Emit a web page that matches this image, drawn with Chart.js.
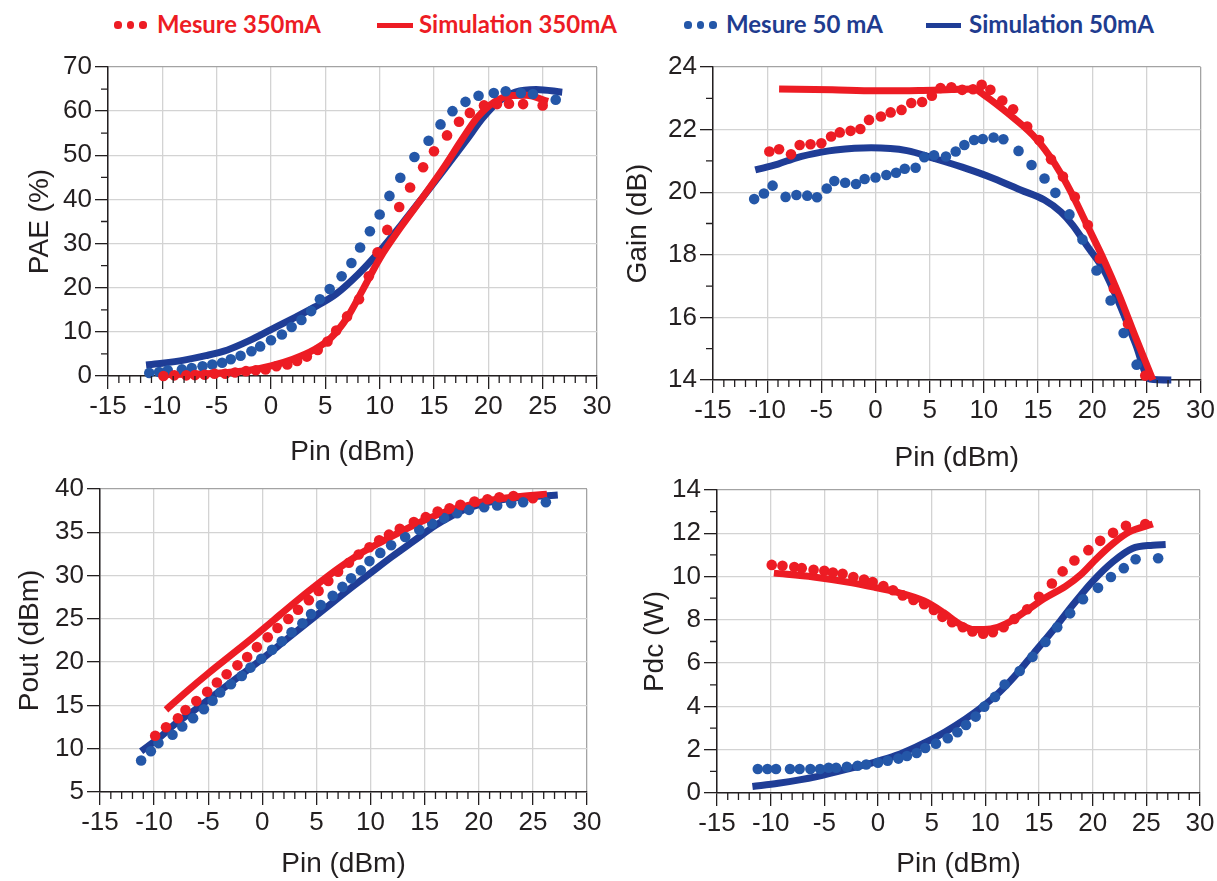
<!DOCTYPE html>
<html><head><meta charset="utf-8">
<script src="https://cdn.jsdelivr.net/npm/chart.js@4.4.1/dist/chart.umd.min.js"></script>
<style>
html,body{margin:0;padding:0;background:#fff}
body{width:1217px;height:881px;overflow:hidden;position:relative}
canvas{position:absolute}
.lgt{position:absolute;font-family:Lato,'Open Sans',sans-serif;font-weight:700;white-space:nowrap;line-height:1}
.lgd{position:absolute;border-radius:50%}
.lgl{position:absolute}
</style></head><body>
<div id="legend"></div>
<canvas id="c1" width="620" height="440"></canvas>
<canvas id="c2" width="607" height="440"></canvas>
<canvas id="c3" width="620" height="411"></canvas>
<canvas id="c4" width="607" height="411"></canvas>
<script>
// ---------- axis values ----------
const pinMin = -15, pinMax = 30, pinStep = 5;
const seriesLabels = ['Mesure 350mA', 'Simulation 350mA', 'Mesure 50 mA', 'Simulation 50mA'];

// ---------- PAE (%) ----------
const paeMesure350 = [[-9.9,0],[-8.9,0.15],[-7.8,0.15],[-7.0,0.2],[-6.1,0.3],[-5.2,0.5],[-4.2,0.5],[-3.3,0.8],[-2.3,1.1],[-1.4,1.3],[-0.5,1.5],[0.5,2.2],[1.5,2.6],[2.4,3.4],[3.3,4.4],[4.3,5.9],[5.2,7.8],[6.0,10.3],[7.0,13.5],[8.1,17.4],[9.0,22.6],[9.8,28.0],[10.7,33.1],[11.8,38.3],[12.8,42.7],[14.0,47.3],[15.0,50.9],[16.2,54.5],[17.3,57.6],[18.3,59.6],[19.6,61.3],[20.8,61.6],[21.9,61.7],[23.2,61.6],[25.0,61.3]];
const paeSimulation350 = [[-10,0.3],[-8,0.4],[-6,0.5],[-4,0.8],[-2,1.3],[0,2.3],[2,3.8],[4,6.0],[5.5,8.6],[7,13.2],[8.5,19.8],[10,26.6],[12,33.9],[14,40.6],[16,47.6],[17.5,53.3],[19,58.6],[20.5,62.0],[22,63.5],[23.5,63.6],[25.5,62.2]];
const paeMesure50 = [[-11.2,0.7],[-10.3,0.9],[-9.5,1.3],[-8.2,1.5],[-7.3,1.8],[-6.3,2.2],[-5.4,2.6],[-4.5,3.0],[-3.7,3.8],[-2.8,4.6],[-1.8,5.6],[-1.0,6.7],[0.0,8.1],[1.0,9.4],[1.9,11.1],[2.8,12.7],[3.7,14.7],[4.5,17.4],[5.4,19.7],[6.5,22.6],[7.4,25.6],[8.2,29.1],[9.1,32.8],[10.0,36.6],[10.9,40.8],[11.9,44.9],[13.2,49.6],[14.5,53.3],[15.6,57.0],[16.7,60.0],[17.9,62.1],[19.1,63.5],[20.5,64.1],[21.6,64.5],[23.0,64.1],[24.1,63.9],[26.2,62.6]];
const paeSimulation50 = [[-11.5,2.5],[-10,2.9],[-8,3.6],[-6,4.6],[-4,5.9],[-2,8.0],[0,10.5],[2,13.0],[4,15.6],[6,18.6],[8,23.0],[10,28.3],[12,34.3],[14,40.6],[16,47.0],[18,53.5],[19.5,58.5],[21,62.3],[22.5,64.3],[24.4,64.9],[26.8,64.3]];

// ---------- Gain (dB) ----------
const gainMesure350 = [[-9.8,21.30],[-8.9,21.37],[-7.8,21.21],[-7.0,21.51],[-6.0,21.53],[-5.0,21.56],[-4.1,21.78],[-3.3,21.91],[-2.3,21.96],[-1.4,22.02],[-0.6,22.31],[0.5,22.42],[1.4,22.55],[2.4,22.63],[3.3,22.85],[4.3,22.88],[5.2,23.08],[6.0,23.33],[7.0,23.35],[8.0,23.27],[9.0,23.29],[9.8,23.43],[10.6,23.27],[11.7,22.93],[12.7,22.65],[14.0,22.10],[15.1,21.67],[16.2,21.05],[17.3,20.50],[18.4,19.85],[19.6,18.95],[20.7,17.88],[22.0,16.92],[23.3,15.80],[24.9,14.14]];
const gainSimulation350 = [[-8.9,23.30],[-4,23.27],[0,23.24],[4,23.25],[7,23.28],[9.1,23.30],[10,23.11],[12.4,22.47],[14.5,21.83],[16,21.19],[17.1,20.6],[18.2,19.9],[19.6,18.9],[21.1,17.82],[22.5,16.70],[24,15.37],[25.6,14.0]];
const gainMesure50 = [[-11.2,19.78],[-10.3,19.96],[-9.5,20.21],[-8.3,19.85],[-7.3,19.91],[-6.3,19.89],[-5.4,19.84],[-4.5,20.12],[-3.8,20.36],[-2.8,20.30],[-1.8,20.26],[-1.0,20.42],[0.0,20.47],[1.0,20.55],[1.9,20.62],[2.7,20.75],[3.7,20.78],[4.5,21.12],[5.4,21.18],[6.5,21.14],[7.4,21.30],[8.2,21.51],[9.1,21.67],[9.9,21.70],[10.9,21.75],[11.8,21.69],[13.2,21.32],[14.4,20.87],[15.6,20.44],[16.6,19.98],[17.9,19.29],[19.1,18.49],[20.4,17.50],[21.7,16.54],[22.9,15.50],[24.1,14.49]];
const gainSimulation50 = [[-11.1,20.71],[-9,20.9],[-7.3,21.10],[-5,21.28],[-3.7,21.35],[-0.4,21.42],[2.9,21.33],[5.4,21.08],[8.0,20.80],[10.9,20.44],[13.4,20.07],[15.6,19.75],[17.1,19.37],[18.2,18.95],[19.6,18.25],[21.1,17.50],[22.5,16.44],[24.0,15.15],[25.3,14.03],[27.3,14.0]];

// ---------- Pout (dBm) ----------
const poutMesure350 = [[-9.9,11.49],[-8.9,12.48],[-7.8,13.52],[-7.1,14.47],[-6.1,15.50],[-5.1,16.58],[-4.2,17.65],[-3.3,18.60],[-2.3,19.63],[-1.4,20.59],[-0.5,21.74],[0.5,22.88],[1.4,23.95],[2.4,24.98],[3.3,26.05],[4.3,27.16],[5.2,28.23],[6.1,29.38],[7.0,30.45],[8.0,31.48],[8.9,32.43],[9.9,33.27],[10.8,34.08],[11.7,34.73],[12.7,35.41],[14.0,36.18],[15.1,36.75],[16.2,37.40],[17.3,37.78],[18.3,38.17],[19.6,38.55],[20.8,38.82],[21.9,39.04],[23.2,39.20],[25.0,38.93]];
const poutSimulation350 = [[-8.9,14.5],[-7,16.6],[-5,18.7],[-3,20.7],[-1,22.7],[1,24.8],[3,26.9],[5,28.9],[7,30.8],[9,32.5],[11,33.9],[13,35.2],[15,36.4],[17,37.4],[19,38.1],[21,38.7],[23.5,39.1],[26.3,39.4]];
const poutMesure50 = [[-11.2,8.63],[-10.3,9.70],[-9.6,10.65],[-8.3,11.61],[-7.4,12.56],[-6.4,13.52],[-5.4,14.55],[-4.6,15.54],[-3.9,16.50],[-2.9,17.45],[-1.9,18.41],[-1.1,19.37],[-0.1,20.40],[0.9,21.43],[1.8,22.42],[2.7,23.45],[3.7,24.49],[4.5,25.56],[5.4,26.59],[6.5,27.66],[7.4,28.69],[8.2,29.68],[9.1,30.60],[9.9,31.67],[10.9,32.62],[11.9,33.50],[13.2,34.46],[14.5,35.30],[15.7,35.99],[16.8,36.64],[18.0,37.21],[19.1,37.59],[20.5,37.90],[21.7,38.09],[23.0,38.36],[24.1,38.47],[26.2,38.47]];
const poutSimulation50 = [[-11.2,9.7],[-9.5,11.3],[-8.0,12.9],[-6,14.7],[-4,16.6],[-2,18.5],[0,20.4],[2,22.4],[4,24.4],[6,26.4],[8,28.4],[10,30.3],[12,32.2],[14,34.0],[16,35.8],[17.5,36.9],[19,37.8],[21,38.5],[23.0,38.9],[27.3,39.3]];

// ---------- Pdc (W) ----------
const pdcMesure350 = [[-9.9,10.54],[-8.9,10.50],[-7.8,10.44],[-7.1,10.39],[-6.0,10.31],[-5.0,10.27],[-4.2,10.19],[-3.3,10.13],[-2.3,9.98],[-1.3,9.86],[-0.5,9.75],[0.5,9.56],[1.4,9.37],[2.3,9.13],[3.3,8.92],[4.3,8.72],[5.2,8.46],[6.0,8.14],[6.9,7.89],[7.9,7.66],[8.8,7.46],[9.8,7.36],[10.7,7.43],[11.7,7.66],[12.7,8.04],[13.9,8.49],[15.0,9.07],[16.2,9.68],[17.2,10.24],[18.3,10.74],[19.6,11.22],[20.7,11.65],[21.9,12.02],[23.1,12.35],[24.9,12.43]];
const pdcSimulation350 = [[-9.7,10.16],[-6,9.98],[-2.4,9.71],[-0.1,9.48],[2.0,9.25],[4.3,8.87],[6.1,8.34],[7.6,7.81],[9.0,7.55],[10.5,7.58],[11.9,7.81],[13.8,8.42],[15.6,9.02],[17.5,9.56],[18.9,10.09],[20.4,10.85],[21.9,11.53],[23.4,12.06],[25.6,12.43]];
const pdcMesure50 = [[-11.2,1.11],[-10.3,1.11],[-9.5,1.11],[-8.2,1.11],[-7.3,1.11],[-6.3,1.11],[-5.4,1.11],[-4.6,1.17],[-3.9,1.17],[-2.9,1.21],[-1.9,1.26],[-1.1,1.32],[0.0,1.40],[0.9,1.49],[1.9,1.59],[2.7,1.71],[3.6,1.85],[4.4,2.08],[5.4,2.28],[6.5,2.53],[7.4,2.81],[8.2,3.14],[9.1,3.53],[9.9,3.99],[10.9,4.44],[11.8,5.01],[13.2,5.64],[14.4,6.29],[15.6,6.98],[16.7,7.66],[17.9,8.30],[19.1,8.95],[20.5,9.48],[21.7,9.98],[22.9,10.39],[24.0,10.80],[26.1,10.85]];
const pdcSimulation50 = [[-11.7,0.30],[-9.3,0.45],[-5.7,0.76],[-2.0,1.21],[-0.2,1.44],[1.7,1.74],[3.5,2.12],[5.4,2.58],[7.2,3.11],[9.0,3.72],[10.9,4.47],[12.7,5.38],[14.5,6.45],[16.4,7.58],[18.2,8.72],[20.0,9.78],[21.9,10.69],[23.7,11.30],[25.6,11.45],[26.8,11.48]];

// ---------- styles ----------
const RED = '#ED1C24', BLUE_PT = '#2457A8', BLUE_LN = '#1F3D96', BLUE_TXT = '#1F3C8F', INK = '#231f20';
const TICK_FONT = {family: "'Liberation Sans', Arial, sans-serif", size: 26};
const TITLE_FONT = {family: "'Liberation Sans', Arial, sans-serif", size: 28};

const minorTicks = {
  id: 'minorTicks',
  afterDraw(chart, args, opts) {
    const {ctx, chartArea: a, scales: {x, y}} = chart;
    ctx.save();
    ctx.strokeStyle = INK; ctx.lineWidth = 1.3;
    ctx.beginPath();
    for (let v = x.min; v <= x.max + 1e-9; v += 1) {
      if (Math.abs(v % 5) < 1e-9) continue;
      const px = x.getPixelForValue(v);
      ctx.moveTo(px, a.bottom); ctx.lineTo(px, a.bottom + 7);
    }
    (opts.yMinor || []).forEach(v => {
      const py = y.getPixelForValue(v);
      ctx.moveTo(a.left, py); ctx.lineTo(a.left - 7, py);
    });
    ctx.stroke();
    ctx.restore();
  }
};

function pts(arr) { return arr.map(p => ({x: p[0], y: p[1]})); }

function makeChart(id, L, mes350, sim350, mes50, sim50) {
  const el = document.getElementById(id);
  el.style.left = L.left + 'px'; el.style.top = L.top + 'px';
  const scatter = (label, data, color) => ({label, data: pts(data), showLine: false, pointRadius: 5.3, pointBorderWidth: 0, pointBackgroundColor: color, backgroundColor: color, borderColor: color, clip: false});
  const line = (label, data, color, w) => ({label, data: pts(data), showLine: true, pointRadius: 0, borderWidth: w, borderColor: color, cubicInterpolationMode: 'monotone', borderCapStyle: 'butt', borderJoinStyle: 'round', clip: false});
  return new Chart(el, {
    type: 'scatter',
    data: {datasets: [
      scatter(seriesLabels[0], mes350, RED),
      scatter(seriesLabels[2], mes50, BLUE_PT),
      line(seriesLabels[1], sim350, RED, 7),
      line(seriesLabels[3], sim50, BLUE_LN, 7)
    ]},
    options: {
      responsive: false, animation: false, devicePixelRatio: 1,
      layout: {padding: {top: L.padTop, right: L.padRight, left: 0, bottom: 0}},
      plugins: {legend: {display: false}, tooltip: {enabled: false}, minorTicks: {yMinor: L.yMinor}},
      scales: {
        x: {
          type: 'linear', min: pinMin, max: pinMax,
          ticks: {stepSize: pinStep, font: TICK_FONT, color: INK, padding: 2, maxRotation: 0, autoSkip: false, callback: v => String(v)},
          grid: {color: c => (c.tick && c.tick.value === pinMax) ? '#a3a3a3' : '#d3d3d3', lineWidth: 1.3, tickLength: 13, tickColor: INK, tickWidth: 1.3},
          border: {color: INK, width: 1.5},
          title: {display: true, text: 'Pin (dBm)', font: TITLE_FONT, color: INK, padding: {top: 0, bottom: L.xTitlePad}},
          afterFit: s => { s.height = L.xAxisH; }
        },
        y: {
          type: 'linear', min: L.yMin, max: L.yMax,
          ticks: {stepSize: L.yStep, font: TICK_FONT, color: INK, padding: 3, callback: v => String(v)},
          grid: {color: c => (c.tick && c.tick.value === L.yMax) ? '#a3a3a3' : '#d3d3d3', lineWidth: 1.3, tickLength: 13, tickColor: INK, tickWidth: 1.3},
          border: {color: INK, width: 1.5},
          title: {display: true, text: L.yTitle, font: TITLE_FONT, color: INK, padding: {top: L.yTitlePad, bottom: 0}},
          afterFit: s => { s.width = L.yAxisW; }
        }
      }
    },
    plugins: [minorTicks]
  });
}

makeChart('c1', {left: 0, top: 40, padTop: 27, padRight: 23, yAxisW: 108, xAxisH: 104, xTitlePad: 11, yTitlePad: 23,
  yMin: 0, yMax: 70, yStep: 10, yTitle: 'PAE (%)', yMinor: [5,15,25,35,45,55,65]},
  paeMesure350, paeSimulation350, paeMesure50, paeSimulation50);
makeChart('c2', {left: 610, top: 40, padTop: 27, padRight: 16, yAxisW: 103, xAxisH: 100, xTitlePad: 5, yTitlePad: 11,
  yMin: 14, yMax: 24, yStep: 2, yTitle: 'Gain (dB)', yMinor: [15,17,19,21,23]},
  gainMesure350, gainSimulation350, gainMesure50, gainSimulation50);
makeChart('c3', {left: 0, top: 470, padTop: 19, padRight: 33, yAxisW: 100, xAxisH: 89, xTitlePad: 0, yTitlePad: 13,
  yMin: 5, yMax: 40, yStep: 5, yTitle: 'Pout (dBm)', yMinor: []},
  poutMesure350, poutSimulation350, poutMesure50, poutSimulation50);
makeChart('c4', {left: 610, top: 470, padTop: 20, padRight: 17, yAxisW: 107, xAxisH: 88, xTitlePad: 0, yTitlePad: 28,
  yMin: 0, yMax: 14, yStep: 2, yTitle: 'Pdc (W)', yMinor: [1,3,5,7,9,11,13]},
  pdcMesure350, pdcSimulation350, pdcMesure50, pdcSimulation50);

// ---------- legend ----------
const legendItems = [
  {label: 0, kind: 'dots', mx: 118, tx: 157, tw: 164, mark: RED, text: RED},
  {label: 1, kind: 'line', mx: 377, mw: 36, tx: 419, tw: 198, mark: RED, text: RED},
  {label: 2, kind: 'dots', mx: 688, tx: 726, tw: 157, mark: BLUE_PT, text: BLUE_TXT},
  {label: 3, kind: 'line', mx: 926, mw: 35, tx: 969, tw: 185, mark: BLUE_LN, text: BLUE_TXT}
];
const LEG_CY = 25;
function buildLegend() {
  const root = document.getElementById('legend');
  root.innerHTML = '';
  legendItems.forEach(it => {
    if (it.kind === 'dots') {
      for (let i = 0; i < 3; i++) {
        const d = document.createElement('div');
        d.className = 'lgd';
        const r = 3.6;
        d.style.cssText = `left:${it.mx + i * 12.5 - r}px;top:${LEG_CY - r}px;width:${2*r}px;height:${2*r}px;background:${it.mark}`;
        root.appendChild(d);
      }
    } else {
      const l = document.createElement('div');
      l.className = 'lgl';
      l.style.cssText = `left:${it.mx}px;top:${LEG_CY - 2.5}px;width:${it.mw}px;height:5px;background:${it.mark}`;
      root.appendChild(l);
    }
    const s = document.createElement('span');
    s.className = 'lgt';
    s.textContent = seriesLabels[it.label];
    s.style.fontSize = '24px';
    s.style.color = it.text;
    root.appendChild(s);
    const w = s.getBoundingClientRect().width;
    const fs = 24 * it.tw / w;
    s.style.fontSize = fs + 'px';
    s.style.left = it.tx + 'px';
    s.style.top = (LEG_CY - 0.527 * fs) + 'px';
  });
}
buildLegend();
if (document.fonts && document.fonts.ready) document.fonts.ready.then(buildLegend);
</script>
</body></html>
